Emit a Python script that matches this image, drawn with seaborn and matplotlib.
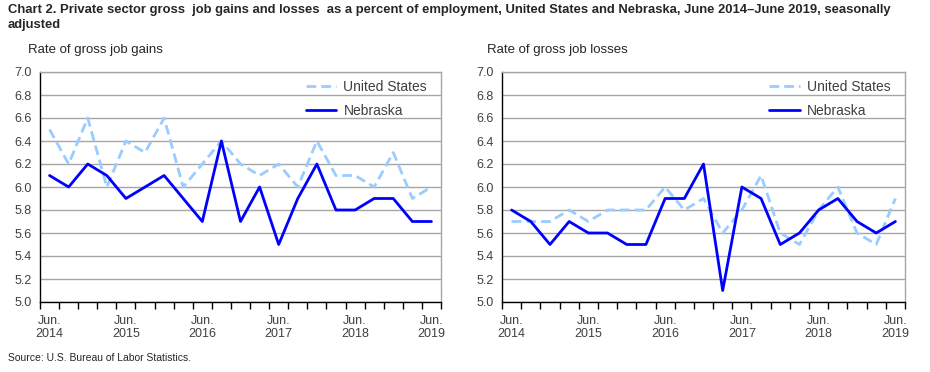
import numpy as np
import pandas as pd
import seaborn as sns
import matplotlib.pyplot as plt

# quarterly, June 2014 - June 2019
quarters = list(range(21))
tick_labels = ['Jun.\n2014', 'Jun.\n2015', 'Jun.\n2016', 'Jun.\n2017', 'Jun.\n2018', 'Jun.\n2019']

us_gains = [6.5, 6.2, 6.6, 6.0, 6.4, 6.3, 6.6, 6.0, 6.2, 6.4, 6.2, 6.1, 6.2, 6.0, 6.4, 6.1, 6.1, 6.0, 6.3, 5.9, 6.0]
ne_gains = [6.1, 6.0, 6.2, 6.1, 5.9, 6.0, 6.1, 5.9, 5.7, 6.4, 5.7, 6.0, 5.5, 5.9, 6.2, 5.8, 5.8, 5.9, 5.9, 5.7, 5.7]
us_losses = [5.7, 5.7, 5.7, 5.8, 5.7, 5.8, 5.8, 5.8, 6.0, 5.8, 5.9, 5.6, 5.8, 6.1, 5.6, 5.5, 5.8, 6.0, 5.6, 5.5, 5.9]
ne_losses = [5.8, 5.7, 5.5, 5.7, 5.6, 5.6, 5.5, 5.5, 5.9, 5.9, 6.2, 5.1, 6.0, 5.9, 5.5, 5.6, 5.8, 5.9, 5.7, 5.6, 5.7]

sns.set_style('white')
plt.rcParams['font.family'] = ['Liberation Sans', 'DejaVu Sans']

palette = {'United States': '#99CCFF', 'Nebraska': '#0000FF'}
dashes = {'United States': (3.5, 1.8), 'Nebraska': ''}

fig = plt.figure(figsize=(9.3, 3.72), dpi=100)
ax1 = fig.add_axes([40 / 930, 1 - 302 / 372, 401 / 930, 230 / 372])
ax2 = fig.add_axes([502 / 930, 1 - 302 / 372, 403 / 930, 230 / 372])

panels = [(ax1, us_gains, ne_gains), (ax2, us_losses, ne_losses)]
for ax, us, ne in panels:
    df = pd.DataFrame({'q': quarters * 2,
                       'rate': us + ne,
                       'area': ['United States'] * 21 + ['Nebraska'] * 21})
    sns.lineplot(data=df, x='q', y='rate', hue='area', style='area',
                 palette=palette, dashes=dashes, linewidth=2, ax=ax)
    ax.set_xlim(-0.5, 20.5)
    ax.set_ylim(5.0, 7.0)
    ax.set_yticks(np.arange(5.0, 7.01, 0.2))
    ax.set_yticklabels([f'{v:.1f}' for v in np.arange(5.0, 7.01, 0.2)])
    ax.yaxis.grid(True, color='#A6A6A6', linewidth=1)
    ax.set_axisbelow(True)
    ax.set_xticks(np.arange(-0.5, 21, 1))
    ax.set_xticklabels([])
    ax.set_xticks([0, 4, 8, 12, 16, 20], minor=True)
    ax.set_xticklabels(tick_labels, minor=True)
    ax.tick_params(axis='x', which='major', bottom=True, direction='out',
                   length=5, color='black', width=1)
    ax.tick_params(axis='x', which='minor', bottom=True, length=0, pad=9,
                   labelsize=9, labelcolor='#404040')
    ax.tick_params(axis='y', length=0, labelsize=9, labelcolor='#404040', pad=6)
    ax.set_xlabel('')
    ax.set_ylabel('')
    for s in ['left', 'bottom']:
        ax.spines[s].set_color('black')
        ax.spines[s].set_linewidth(1)
    for s in ['top', 'right']:
        ax.spines[s].set_color('#A6A6A6')
        ax.spines[s].set_linewidth(1)
    h, l = ax.get_legend_handles_labels()
    ax.legend(h, l, loc='upper left', frameon=False, fontsize=10,
              handlelength=2.2, labelspacing=0.75, handletextpad=0.5,
              bbox_to_anchor=(0.632, 1.02), labelcolor='#404040')

fig.text(8 / 930, 1 - 4 / 372, 'Chart 2. Private sector gross  job gains and losses  as a percent of employment, United States and Nebraska, June 2014\u2013June 2019, seasonally\nadjusted',
         fontsize=9.4, fontweight='bold', va='top', ha='left', linespacing=1.35)
fig.text(28 / 930, 1 - 50 / 372, 'Rate of gross job gains', fontsize=9.5, va='center', ha='left')
fig.text(487 / 930, 1 - 50 / 372, 'Rate of gross job losses', fontsize=9.5, va='center', ha='left')
fig.text(8 / 930, 1 - 358 / 372, 'Source: U.S. Bureau of Labor Statistics.', fontsize=7.5, va='center', ha='left')

plt.savefig('out.png', dpi=100)
